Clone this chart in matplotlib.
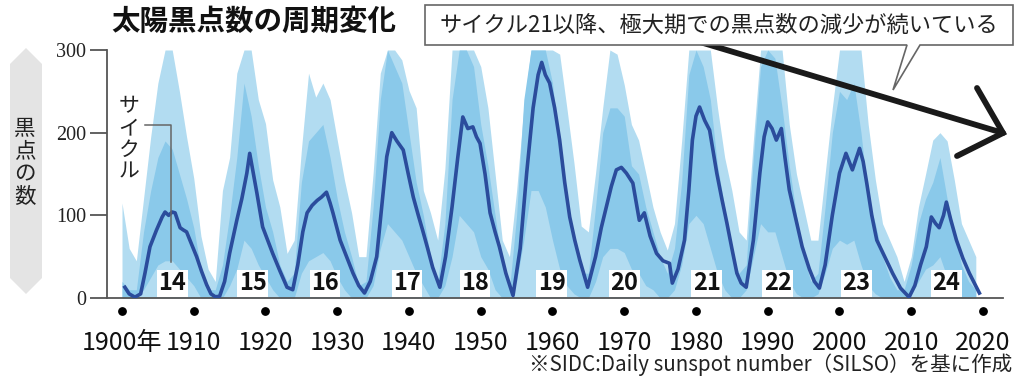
import matplotlib
matplotlib.use('Agg')
import matplotlib.pyplot as plt
import matplotlib.transforms as mtransforms
from matplotlib.patches import Polygon
from matplotlib.lines import Line2D

plt.rcParams['font.family'] = ['Noto Sans CJK JP', 'DejaVu Sans']

# ---------------- data ----------------
env_years = list(range(1900, 2020))
upper = [115, 60, 45, 120, 195, 260, 300, 300, 250, 195,
         145, 75, 35, 20, 130, 170, 272, 300, 300, 240,
         211, 143, 110, 54, 70, 179, 272, 243, 260, 240,
         191, 143, 103, 50, 50, 151, 272, 300, 300, 288,
         251, 230, 130, 103, 70, 156, 300, 300, 300, 300,
         280, 230, 150, 70, 50, 130, 230, 300, 300, 300,
         300, 295, 230, 163, 87, 80, 151, 230, 300, 295,
         258, 210, 191, 151, 110, 80, 58, 90, 190, 300,
         300, 300, 300, 230, 170, 130, 80, 70, 191, 300,
         300, 300, 300, 210, 150, 110, 70, 70, 150, 230,
         300, 300, 300, 300, 210, 143, 90, 70, 50, 20,
         50, 110, 150, 191, 200, 190, 143, 90, 70, 50]
core = [20, 10, 10, 80, 130, 170, 190, 180, 150, 120,
        85, 35, 10, 10, 40, 100, 170, 260, 220, 160,
        110, 80, 40, 20, 30, 140, 190, 200, 210, 170,
        120, 80, 50, 15, 20, 110, 240, 300, 280, 260,
        200, 140, 100, 50, 20, 90, 240, 300, 300, 280,
        210, 160, 100, 40, 10, 100, 240, 300, 300, 300,
        260, 180, 120, 70, 30, 30, 110, 200, 230, 230,
        220, 160, 150, 110, 80, 50, 30, 60, 140, 270,
        300, 280, 240, 160, 110, 50, 30, 40, 170, 280,
        300, 290, 230, 160, 100, 50, 20, 30, 110, 200,
        250, 240, 260, 200, 120, 90, 50, 25, 10, 10,
        40, 90, 120, 140, 170, 120, 80, 40, 20, 10]
lower = [0, 0, 0, 10, 25, 40, 45, 45, 35, 25,
         15, 0, 0, 0, 0, 15, 35, 70, 60, 40,
         25, 10, 0, 0, 0, 30, 45, 50, 55, 45,
         25, 10, 0, 0, 0, 15, 60, 90, 80, 70,
         50, 30, 15, 0, 0, 15, 50, 100, 90, 80,
         50, 35, 10, 0, 0, 20, 70, 130, 130, 110,
         70, 35, 15, 5, 0, 0, 20, 50, 60, 60,
         55, 35, 30, 15, 10, 0, 0, 10, 40, 90,
         100, 90, 60, 30, 10, 0, 0, 10, 50, 90,
         80, 80, 50, 20, 5, 0, 0, 5, 30, 60,
         70, 65, 70, 40, 15, 5, 0, 0, 0, 0,
         5, 20, 35, 40, 50, 25, 10, 0, 0, 0]

smooth_years = [1900.4, 1901.0, 1901.8, 1902.6, 1903.2, 1903.9, 1904.8, 1905.6, 1906.0, 1906.5,
                1907.0, 1907.4, 1908.1, 1908.6, 1909.0, 1909.7, 1910.4, 1911.1, 1911.8, 1912.4,
                1913.0, 1913.6, 1914.3, 1915.0, 1916.0, 1916.7, 1917.4, 1917.8, 1918.3, 1918.8,
                1919.6, 1920.3, 1921.0, 1922.0, 1923.0, 1923.8, 1924.5, 1925.2, 1925.8, 1926.5,
                1927.2, 1927.8, 1928.5, 1929.0, 1929.4, 1930.4, 1931.3, 1932.2, 1933.0, 1933.8,
                1934.6, 1935.5, 1936.2, 1936.9, 1937.6, 1938.3, 1939.2, 1939.9, 1940.6, 1941.3,
                1941.9, 1942.6, 1943.3, 1944.3, 1945.1, 1946.0, 1946.8, 1947.5, 1948.2, 1948.9,
                1949.4, 1949.9, 1950.6, 1951.3, 1952.0, 1952.6, 1953.5, 1954.5, 1955.5, 1956.4,
                1957.3, 1958.0, 1958.5, 1959.0, 1959.6, 1960.3, 1961.0, 1961.7, 1962.4, 1963.1,
                1963.8, 1964.9, 1966.0, 1966.8, 1967.5, 1968.2, 1968.9, 1969.6, 1970.3, 1971.2,
                1972.1, 1972.8, 1973.6, 1974.5, 1975.4, 1976.3, 1976.7, 1977.5, 1978.4, 1979.0,
                1979.5, 1980.0, 1980.5, 1981.2, 1981.9, 1982.9, 1983.6, 1984.3, 1985.0, 1985.7,
                1986.3, 1987.0, 1988.0, 1988.9, 1989.5, 1990.0, 1990.6, 1991.2, 1991.9, 1992.4,
                1993.0, 1993.8, 1994.8, 1995.8, 1996.5, 1997.2, 1998.0, 1999.0, 2000.0, 2000.9,
                2001.8, 2002.8, 2003.3, 2003.8, 2004.5, 2005.2, 2006.3, 2007.4, 2008.5, 2009.7,
                2010.5, 2011.3, 2012.1, 2012.8, 2013.4, 2013.9, 2014.5, 2014.9, 2015.5, 2016.3,
                2017.2, 2018.1, 2019.5]
smooth_vals = [13, 5, 1, 5, 30, 62, 82, 98, 104, 100,
               104, 103, 85, 82, 80, 65, 50, 32, 16, 5,
               1.5, 2, 20, 54, 94, 120, 151, 175, 151, 127,
               86, 70, 54, 33, 13, 10, 40, 80, 103, 112,
               118, 122, 128, 115, 103, 70, 50, 30, 15, 6,
               20, 50, 110, 171, 200, 190, 179, 150, 122, 100,
               82, 60, 37, 13, 50, 110, 170, 219, 205, 207,
               195, 187, 150, 103, 80, 62, 30, 3, 60, 151,
               230, 270, 285, 270, 260, 230, 191, 140, 98, 70,
               46, 13, 50, 85, 110, 135, 155, 158, 151, 139,
               94, 103, 75, 54, 45, 42, 18, 35, 70, 130,
               191, 220, 231, 215, 203, 151, 120, 91, 60, 30,
               18, 13, 70, 151, 195, 213, 205, 191, 205, 170,
               131, 100, 62, 35, 20, 12, 40, 100, 151, 175,
               155, 181, 165, 139, 100, 70, 50, 30, 12, 1,
               15, 40, 62, 98, 90, 85, 100, 116, 95, 70,
               48, 30, 6]

cycle_numbers = ['14', '15', '16', '17', '18', '19', '20', '21', '22', '23', '24']
cycle_label_years = [1907.0, 1918.2, 1928.3, 1939.7, 1949.2, 1959.9,
                     1970.0, 1981.5, 1991.4, 2002.4, 2014.9]
decade_ticks = [1900, 1910, 1920, 1930, 1940, 1950, 1960, 1970, 1980, 1990, 2000, 2010, 2020]
decade_labels = ['1900年', '1910', '1920', '1930', '1940', '1950', '1960',
                 '1970', '1980', '1990', '2000', '2010', '2020']
y_ticks = [0, 100, 200, 300]

title_text = '太陽黒点数の周期変化'
callout_text = 'サイクル21以降、極大期での黒点数の減少が続いている'
ylabel_text = '黒\n点\nの\n数'
cycle_word = 'サ\nイ\nク\nル'
source_text = '※SIDC:Daily sunspot number（SILSO）を基に作成'

# ---------------- figure ----------------
W, H = 1024, 379
fig = plt.figure(figsize=(W / 100, H / 100), dpi=100)


def fx(x):
    return x / W


def fy(y):
    return 1 - y / H


ax = fig.add_axes([fx(107), fy(298), (1003 - 107) / W, (298 - 50) / H])
ax.fill_between(env_years, 0, upper, color='#b2dcf1', lw=0, zorder=1)
ax.fill_between(env_years, lower, core, color='#8ac9ea', lw=0, zorder=2)
ax.plot(smooth_years, smooth_vals, color='#2b4c9c', lw=2.6,
        solid_joinstyle='round', zorder=3)

ax.set_xlim(1897.91, 2022.79)
ax.set_ylim(0, 300)
for s in ['top', 'right']:
    ax.spines[s].set_visible(False)
for s in ['left', 'bottom']:
    ax.spines[s].set_color('#555555')
    ax.spines[s].set_linewidth(1.3)

ax.set_yticks(y_ticks)
ax.set_yticklabels([str(v) for v in y_ticks])
ax.tick_params(axis='y', length=12, width=1.3, color='#555555', pad=3,
               labelsize=14.5, labelcolor='#222222')
for lab in ax.get_yticklabels():
    lab.set_fontfamily('Liberation Serif')

ax.set_xticks(decade_ticks)
ax.set_xticklabels(decade_labels)
ax.tick_params(axis='x', length=0, pad=23, labelsize=18, labelcolor='#111111')

blend = mtransforms.blended_transform_factory(ax.transData, ax.transAxes)
ax.scatter(decade_ticks, [-13 / 248] * len(decade_ticks), s=28, color='black',
           transform=blend, clip_on=False, zorder=5)

for num, xv in zip(cycle_numbers, cycle_label_years):
    ax.text(xv, 18, num, ha='center', va='center', fontsize=17,
            fontweight='bold', color='#111111', zorder=6,
            bbox=dict(fc='white', ec='none', pad=1.0))

# y-axis label band
band = Polygon([(fx(26), fy(48)), (fx(42), fy(64)), (fx(42), fy(278)),
                (fx(26), fy(294)), (fx(10), fy(278)), (fx(10), fy(64))],
               closed=True, transform=fig.transFigure, fc='#e4e4e4', ec='none')
fig.add_artist(band)
fig.text(fx(25), fy(163), ylabel_text, ha='center', va='center', fontsize=15.5,
         linespacing=1.05, color='#222222')

# title
fig.text(fx(111), fy(22), title_text, ha='left', va='center', fontsize=20.5,
         fontweight='bold', color='#111111')

# "サイクル" label with bracket
fig.text(fx(129), fy(139), cycle_word, ha='center', va='center', fontsize=15,
         linespacing=1.0, color='#222222')
fig.add_artist(Line2D([fx(145), fx(171), fx(171)], [fy(125), fy(125), fy(262)],
                      transform=fig.transFigure, color='#666666', lw=1.1, zorder=4))

# big arrow
fig.add_artist(Line2D([fx(700), fx(1003)], [fy(42), fy(133)], transform=fig.transFigure,
                      color='#1a1a1a', lw=4.2, solid_capstyle='round', zorder=5))
fig.add_artist(Line2D([fx(977), fx(1003), fx(957)], [fy(88), fy(133), fy(156)],
                      transform=fig.transFigure, color='#1a1a1a', lw=4.2,
                      solid_capstyle='round', solid_joinstyle='miter', zorder=5))

# callout box with tail
callout = Polygon([(fx(425), fy(5)), (fx(1013), fy(5)), (fx(1013), fy(45)),
                   (fx(920), fy(45)), (fx(893), fy(90)), (fx(907), fy(45)),
                   (fx(425), fy(45))], closed=True, transform=fig.transFigure,
                  fc='white', ec='#666666', lw=1.2, zorder=6)
fig.add_artist(callout)
fig.text(fx(719), fy(25), callout_text, ha='center', va='center', fontsize=16,
         color='#222222', zorder=7)

# source
fig.text(fx(1012), fy(365), source_text, ha='right', va='center', fontsize=14.8,
         color='#222222')

fig.savefig('out.png', dpi=100)
